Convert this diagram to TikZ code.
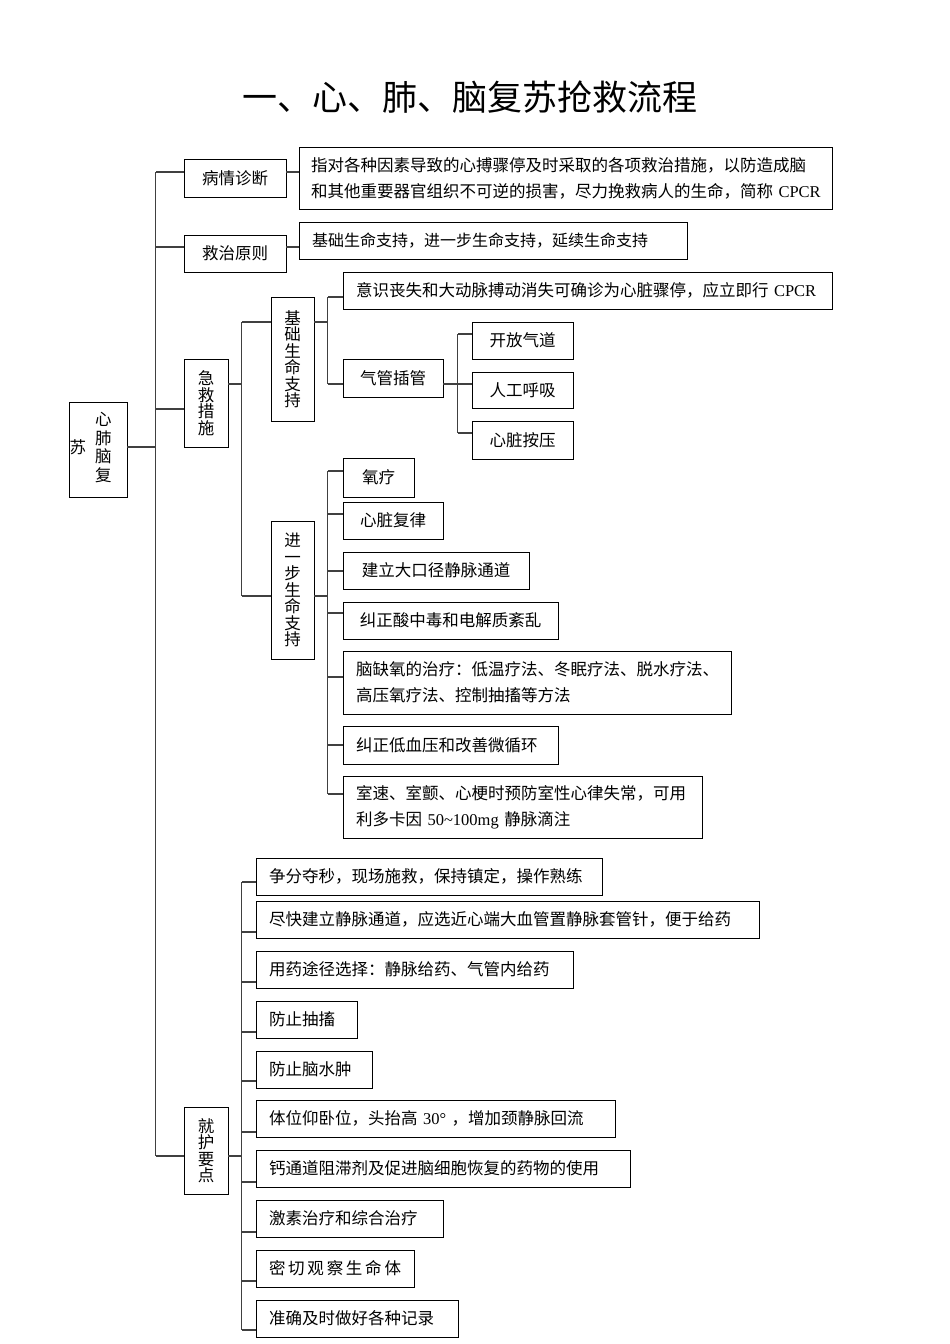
\documentclass[tikz,border=0pt]{standalone}
\usepackage{fontspec}
\setmainfont{Liberation Serif}
\newfontfamily\cjk{Noto Sans CJK SC}
\newfontfamily\lat{Liberation Serif}

\tikzset{
  box/.style={draw, line width=0.8pt, inner xsep=13pt, inner ysep=0pt, minimum height=37pt, align=left, font=\cjk\fontsize{16.5}{26}\selectfont},
  mid/.style={box, align=center},
  vbox/.style={draw, line width=0.8pt, inner sep=0pt, align=center, font=\cjk\fontsize{16.5}{16.5}\selectfont},
  link/.style={draw=black!75, line width=1.3pt}
}

\begin{document}
\begin{tikzpicture}[x=1pt, y=-1pt]
        \useasboundingbox (0,0) rectangle (950,1344);

        \node[font=\cjk\fontsize{35}{40}\selectfont] (title) at (470,97) {一、心、肺、脑复苏抢救流程};

        \node[vbox, minimum width=58pt, minimum height=95pt] (root) at (98,449.5) {苏\hspace{9pt}\begin{tabular}{@{}c@{}}心\\肺\\脑\\复\end{tabular}\hspace{15pt}};

        \node[mid, text width=76pt, minimum height=38pt] (zd) at (235,178) {病情诊断};
        \node[mid, text width=76pt] (zy) at (235,253.5) {救治原则};
        \node[vbox, minimum width=44pt, minimum height=88pt] (jj) at (206,403) {急\\救\\措\\施};
        \node[vbox, minimum width=44pt, minimum height=87pt] (jh) at (206,1150.5) {就\\护\\要\\点};

        \node[box, inner xsep=12pt, text width=509pt, minimum height=62pt] (d1) at (565.5,178) {指对各种因素导致的心搏骤停及时采取的各项救治措施，以防造成脑\\\hbox{和其他重要器官组织不可逆的损害，尽力挽救病人的生命，简称 {\lat CPCR}}};
        \node[box, text width=362pt] (d2) at (493,240.5) {\fontsize{16}{26}\selectfont 基础生命支持，进一步生命支持，延续生命支持};

        % basic life support
        \node[vbox, minimum width=43pt, minimum height=124pt] (jc) at (292.5,359) {基\\础\\生\\命\\支\\持};
        \node[box, text width=463pt] (ys) at (587.5,290.5) {意识丧失和大动脉搏动消失可确诊为心脏骤停，应立即行 {\lat CPCR}};
        \node[mid, text width=74pt, minimum height=38pt] (qg) at (393,378) {气管插管};
        \node[mid, text width=75pt] (kf) at (522.5,340.5) {开放气道};
        \node[mid, text width=75pt, minimum height=36pt] (rg) at (522.5,390) {人工呼吸};
        \node[mid, text width=75pt, minimum height=38pt] (xz) at (522.5,440) {心脏按压};

        % advanced life support
        \node[vbox, minimum width=43pt, minimum height=138pt] (jb) at (292.5,590) {进\\一\\步\\生\\命\\支\\持};
        \node[mid, text width=45pt, minimum height=39pt] (yl) at (378.5,477.5) {氧疗};
        \node[mid, text width=74pt] (fl) at (393,520.5) {心脏复律};
        \node[mid, text width=160pt] (jl) at (436,570.5) {建立大口径静脉通道};
        \node[mid, text width=189pt] (jz) at (450.5,620.5) {纠正酸中毒和电解质紊乱};
        \node[box, text width=362pt, minimum height=63pt] (nq) at (537,682.5) {脑缺氧的治疗：低温疗法、冬眠疗法、脱水疗法、\\高压氧疗法、控制抽搐等方法};
        \node[box, text width=189pt, minimum height=38pt] (dx) at (450.5,745) {纠正低血压和改善微循环};
        \node[box, text width=333pt, minimum height=62pt] (ss) at (522.5,807) {室速、室颤、心梗时预防室性心律失常，可用\\利多卡因 {\lat 50\textasciitilde 100mg} 静脉滴注};

        % nursing points
        \node[box, text width=320pt] (h1) at (429,876.5) {争分夺秒，现场施救，保持镇定，操作熟练};
        \node[box, text width=477pt] (h2) at (507.5,919.5) {尽快建立静脉通道，应选近心端大血管置静脉套管针，便于给药};
        \node[box, text width=291pt] (h3) at (414.5,969.5) {用药途径选择：静脉给药、气管内给药};
        \node[box, text width=75pt] (h4) at (306.5,1019.5) {防止抽搐};
        \node[box, text width=90pt] (h5) at (314,1069.5) {防止脑水肿};
        \node[box, text width=333pt] (h6) at (435.5,1118.5) {体位仰卧位，头抬高 {\lat 30°} ，增加颈静脉回流};
        \node[box, text width=348pt] (h7) at (443,1168.5) {钙通道阻滞剂及促进脑细胞恢复的药物的使用};
        \node[box, text width=161pt] (h8) at (349.5,1218.5) {激素治疗和综合治疗};
        \node[box, text width=132pt] (h9) at (335,1268.5) {\hbox{密\kern2.75pt 切\kern2.75pt 观\kern2.75pt 察\kern2.75pt 生\kern2.75pt 命\kern2.75pt 体}};
        \node[box, text width=176pt] (h10) at (357,1318.5) {准确及时做好各种记录};

        % main trunk
        \draw[link] ([yshift=2.5pt]root.east) -- ++(29,0);
        \foreach \n/\s in {zd/6,zy/6.5,jj/-6,jh/-5.5}
            \draw[link] ([yshift=\s pt]\n.west) -- ++(-28,0) coordinate (c-\n);
        \draw[link] (c-zd) -- (c-jh);

        \draw[link] ([yshift=6pt]zd.east) -- ++(13,0);
        \draw[link] ([yshift=6.5pt]zy.east) -- ++(13,0);

        % emergency measures
        \draw[link] ([yshift=19pt]jj.east) -- ++(14,0);
        \foreach \n/\s in {jc/37,jb/-6}
            \draw[link] ([yshift=\s pt]\n.west) -- ++(-29,0) coordinate (c-\n);
        \draw[link] (c-jc) -- (c-jb);

        \draw[link] ([yshift=37pt]jc.east) -- ++(14,0);
        \foreach \n/\s in {ys/-6.5,qg/-6}
            \draw[link] ([yshift=\s pt]\n.west) -- ++(-15,0) coordinate (c-\n);
        \draw[link] (c-ys) -- (c-qg);

        \draw[link] ([yshift=-6pt]qg.east) -- ++(15,0);
        \foreach \n/\s in {kf/6.5,rg/6,xz/7}
            \draw[link] ([yshift=\s pt]\n.west) -- ++(-14,0) coordinate (c-\n);
        \draw[link] (c-kf) -- (c-xz);

        \draw[link] ([yshift=-6pt]jb.east) -- ++(14,0);
        \foreach \n/\s in {yl/6.5,fl/6.5,jl/-0.5,jz/7.5,nq/5.5,dx/0,ss/13}
            \draw[link] ([yshift=\s pt]\n.west) -- ++(-15,0) coordinate (c-\n);
        \draw[link] (c-yl) -- (c-ss);

        % nursing points
        \draw[link] ([yshift=-5.5pt]jh.east) -- ++(14,0);
        \foreach \n/\s in {h1/-5.5,h2/-12.5,h3/-12.5,h4/-12.5,h5/-11.5,h6/-13.5,h7/-13.5,h8/-13.5,h9/-12.5,h10/-11.5}
            \draw[link] ([yshift=\s pt]\n.west) -- ++(-14,0) coordinate (c-\n);
        \draw[link] (c-h1) -- (c-h10);
\end{tikzpicture}
\end{document}
